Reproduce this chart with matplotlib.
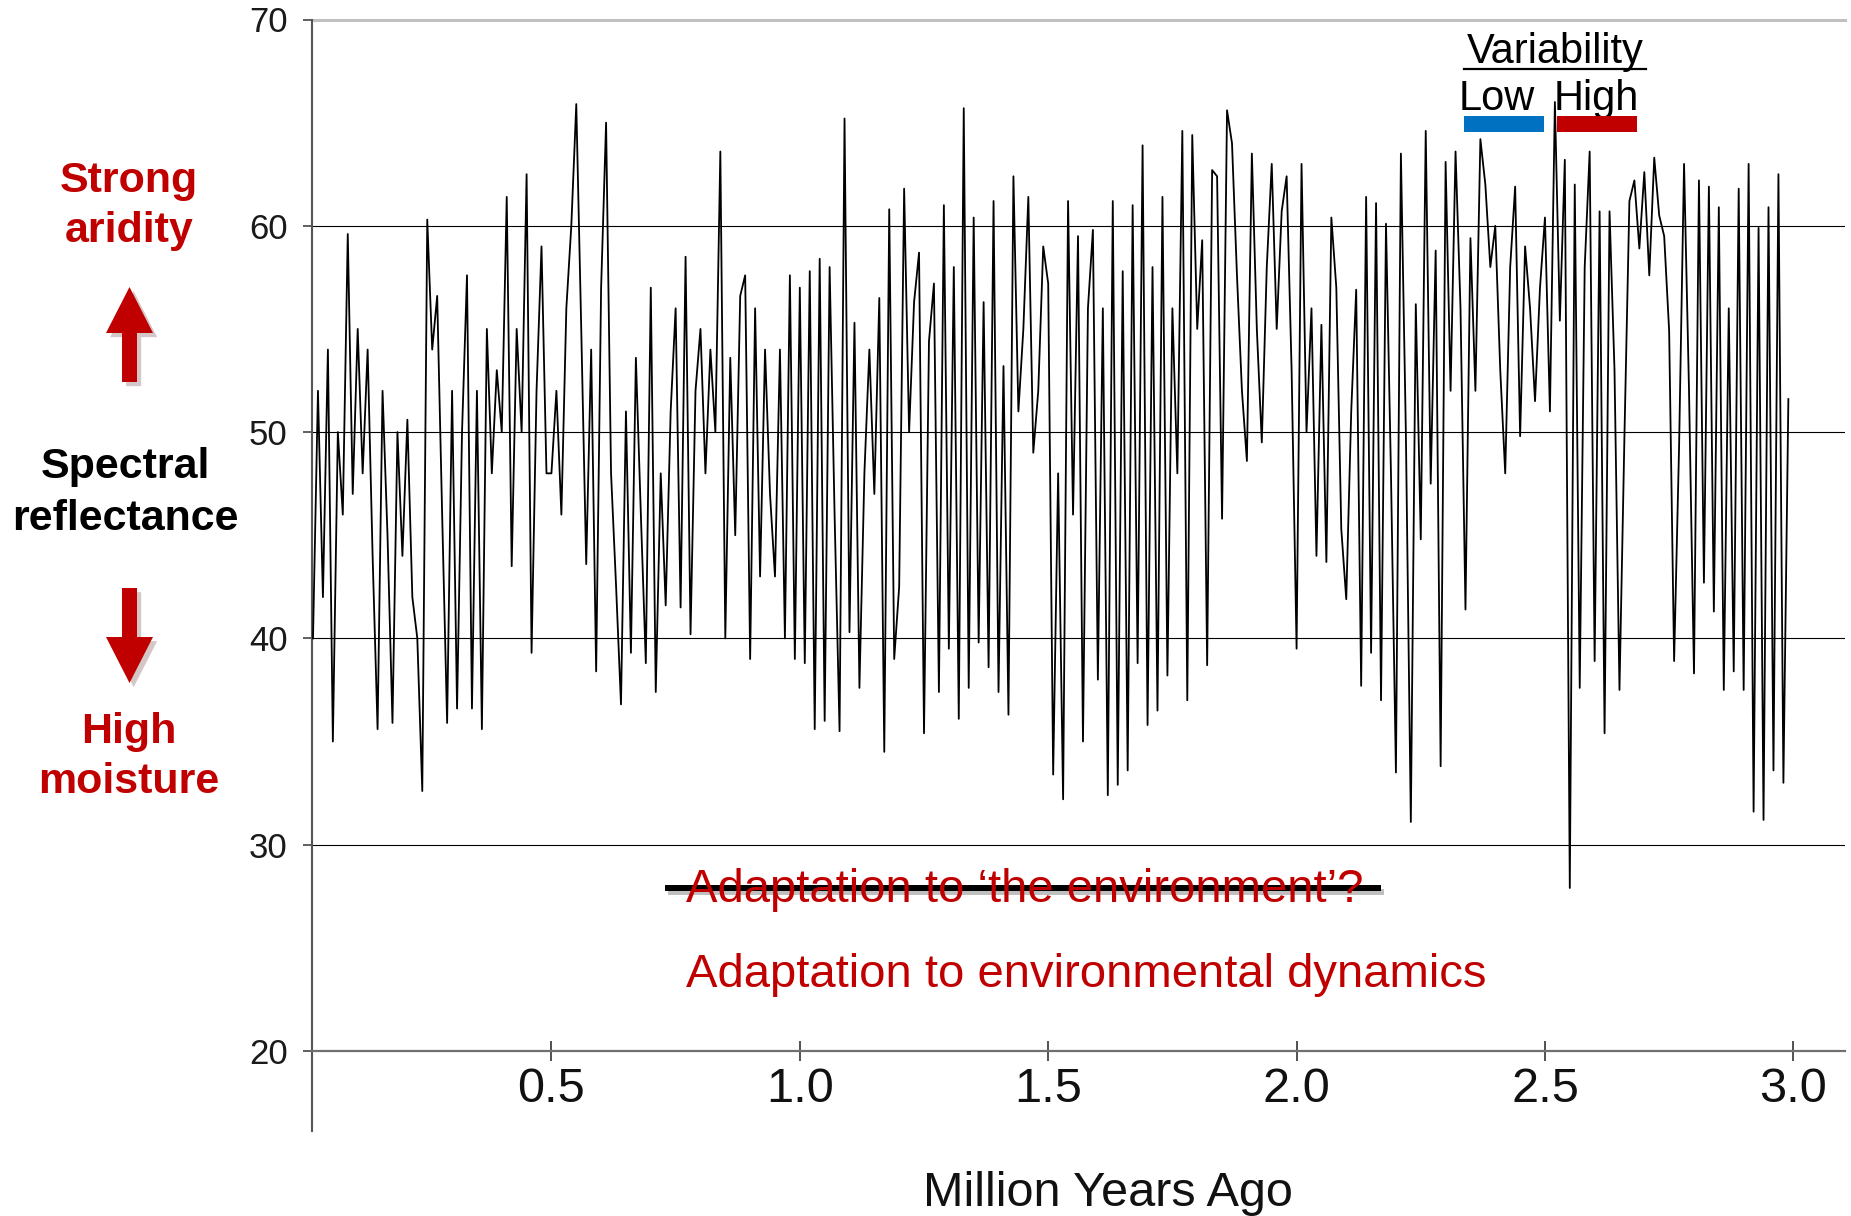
"""
Spectral reflectance record over the last 3 Myr, with variability annotations.
Saves out.png (1851 x 1216).
"""

import numpy as np
import matplotlib
matplotlib.use("Agg")
import matplotlib.pyplot as plt
import matplotlib.patheffects as pe
from matplotlib.patches import Polygon, Rectangle
from matplotlib.lines import Line2D
from matplotlib.transforms import IdentityTransform

W, H, DPI = 1851, 1216, 100

plt.rcParams.update({
    "font.family": ["Liberation Sans", "DejaVu Sans"],
})

RED = "#C00000"
BLUE = "#0070C0"

# ── Data: reflectance, one value every 10 kyr ──────────────────────────────
AGE_START = 0.02   # Myr
AGE_STEP = 0.01

REFL_00 = [40, 52, 42, 54, 35, 50, 46, 59.6]                           # 0.02-0.09
REFL_01 = [47, 55, 48, 54, 44, 35.6, 52, 45, 35.9, 50]
REFL_02 = [44, 50.6, 42, 40, 32.6, 60.3, 54, 56.6, 46, 35.9]
REFL_03 = [52, 36.6, 50, 57.6, 36.6, 52, 35.6, 55, 48, 53]
REFL_04 = [50, 61.4, 43.5, 55, 50, 62.5, 39.3, 52, 59, 48]
REFL_05 = [48, 52, 46, 56, 60, 65.9, 55, 43.6, 54, 38.4]
REFL_06 = [57, 65.0, 48, 42.6, 36.8, 51, 39.3, 53.6, 46, 38.8]
REFL_07 = [57, 37.4, 48, 41.6, 51, 56, 41.5, 58.5, 40.2, 52]
REFL_08 = [55, 48, 54, 50, 63.6, 40, 53.6, 45, 56.6, 57.6]
REFL_09 = [39, 56, 43, 54, 47, 43, 54, 40, 57.6, 39]
REFL_10 = [57, 38.8, 57.8, 35.6, 58.4, 36, 58, 46, 35.5, 65.2]
REFL_11 = [40.3, 55.3, 37.6, 48, 54, 47, 56.5, 34.5, 60.8, 39]
REFL_12 = [42.5, 61.8, 50, 56.3, 58.7, 35.4, 54.4, 57.2, 37.4, 61]
REFL_13 = [39.5, 58, 36.1, 65.7, 37.6, 60.4, 39.8, 56.3, 38.6, 61.2]
REFL_14 = [37.4, 53.2, 36.3, 62.4, 51, 55, 61.4, 49, 52, 59]
REFL_15 = [57.2, 33.4, 48, 32.2, 61.2, 46, 59.5, 35, 56, 59.8]
REFL_16 = [38, 56, 32.4, 61.2, 32.9, 57.8, 33.6, 61, 38.8, 63.9]
REFL_17 = [35.8, 58, 36.5, 61.4, 38.2, 56, 48, 64.6, 37, 64.4]
REFL_18 = [55, 59.3, 38.7, 62.7, 62.4, 45.8, 65.6, 64, 57.6, 52]
REFL_19 = [48.6, 63.5, 55, 49.5, 58, 63, 55, 60.7, 62.4, 53]
REFL_20 = [39.5, 63, 50, 56, 44, 55.2, 43.7, 60.4, 57, 45.3]
REFL_21 = [41.9, 51, 56.9, 37.7, 61.4, 39.3, 61.1, 37, 60.1, 48]
REFL_22 = [33.5, 63.5, 50, 31.1, 56.2, 44.8, 64.6, 47.5, 58.8, 33.8]
REFL_23 = [63.1, 52, 63.6, 56, 41.4, 59.4, 52, 64.2, 62, 58]
REFL_24 = [60, 53, 48, 58, 61.9, 49.8, 59, 56, 51.5, 57]
REFL_25 = [60.4, 51, 66, 55.4, 63.2, 27.9, 62, 37.6, 58, 63.6]
REFL_26 = [38.9, 60.7, 35.4, 60.7, 53, 37.5, 49.8, 61.2, 62.2, 58.9]
REFL_27 = [62.6, 57.6, 63.3, 60.5, 59.5, 54.9, 38.9, 49.3, 63, 52]
REFL_28 = [38.3, 62.2, 42.7, 61.9, 41.3, 60.9, 37.5, 56, 38.4, 61.8]
REFL_29 = [37.5, 63, 31.6, 59.9, 31.2, 60.9, 33.6, 62.5, 33, 51.6]     # 2.90-2.99

Y_TICKS = [20, 30, 40, 50, 60, 70]
X_TICKS = [0.5, 1.0, 1.5, 2.0, 2.5, 3.0]
X_TICK_LABELS = ["0.5", "1.0", "1.5", "2.0", "2.5", "3.0"]

reflectance = np.concatenate([
    REFL_00, REFL_01, REFL_02, REFL_03, REFL_04, REFL_05, REFL_06, REFL_07,
    REFL_08, REFL_09, REFL_10, REFL_11, REFL_12, REFL_13, REFL_14, REFL_15,
    REFL_16, REFL_17, REFL_18, REFL_19, REFL_20, REFL_21, REFL_22, REFL_23,
    REFL_24, REFL_25, REFL_26, REFL_27, REFL_28, REFL_29,
])
age = AGE_START + AGE_STEP * np.arange(len(reflectance))


def px(x, y):
    """Reference pixel (origin top-left) -> display pixel (origin bottom-left)."""
    return x, H - y


def fig_text(x, y, s, **kw):
    fig.text(x / W, 1 - y / H, s, **kw)


# ── Figure / axes ──────────────────────────────────────────────────────────
fig = plt.figure(figsize=(W / DPI, H / DPI), dpi=DPI)
ax = fig.add_axes([312 / W, 1 - 1131 / H, (1845 - 312) / W, (1131 - 19.5) / H])
ax.set_xlim(0.018, 3.104)
ax.set_ylim(16.12, 70)

for y in Y_TICKS[1:-1]:
    ax.axhline(y, color="black", lw=0.8, zorder=1)
ax.axhline(70, color="#c0c0c0", lw=2.2, zorder=1, clip_on=False)

ax.plot(age, reflectance, color="black", lw=1.3, zorder=3)

ax.spines["top"].set_visible(False)
ax.spines["right"].set_visible(False)
ax.spines["left"].set_color("#555555")
ax.spines["left"].set_linewidth(1.5)
ax.spines["bottom"].set_position(("data", 20))
ax.spines["bottom"].set_color("#707070")
ax.spines["bottom"].set_linewidth(1.6)

ax.set_yticks(Y_TICKS)
ax.tick_params(axis="y", direction="out", length=6.5, width=1.2, color="#444444",
               labelsize=25, pad=11, labelcolor="#1a1a1a")
ax.set_xticks(X_TICKS, X_TICK_LABELS)
ax.tick_params(axis="x", direction="inout", length=15, width=1.2, color="#333333",
               labelsize=35, pad=4, labelcolor="#111111")

# ── Axis captions on the left ──────────────────────────────────────────────
bold = dict(fontsize=31, fontweight="bold", ha="center", va="baseline")
fig_text(129, 192, "Strong", color=RED, **bold)
fig_text(129, 242, "aridity", color=RED, **bold)
fig_text(125, 478, "Spectral", color="black", **bold)
fig_text(125, 530, "reflectance", color="black", **bold)
fig_text(129, 743, "High", color=RED, **bold)
fig_text(129, 793, "moisture", color=RED, **bold)

shadow = [pe.SimplePatchShadow(offset=(3, -3), alpha=0.22), pe.Normal()]
up = [(129.5, 287), (153, 333), (137, 333), (137, 382), (122, 382), (122, 333), (106, 333)]
down = [(129.5, 683), (153, 637), (137, 637), (137, 588), (122, 588), (122, 637), (106, 637)]
for verts in (up, down):
    poly = Polygon([px(x, y) for x, y in verts], closed=True, transform=IdentityTransform(),
                   facecolor=RED, edgecolor="none", path_effects=shadow)
    fig.add_artist(poly)

fig_text(1108, 1206, "Million Years Ago", fontsize=35, ha="center", va="baseline",
         color="#111111")

# ── Variability key ────────────────────────────────────────────────────────
fig_text(1555, 63, "Variability", fontsize=30, ha="center", va="baseline")
fig.add_artist(Line2D([1464, 1646], [H - 69, H - 69], transform=IdentityTransform(),
                      color="black", lw=1.6))
fig_text(1497, 110, "Low", fontsize=30, ha="center", va="baseline")
fig_text(1596, 110, "High", fontsize=30, ha="center", va="baseline")
fig.add_artist(Rectangle(px(1464, 132), 80, 16, transform=IdentityTransform(),
                         facecolor=BLUE, edgecolor="none", zorder=5))
fig.add_artist(Rectangle(px(1557, 132), 80, 16, transform=IdentityTransform(),
                         facecolor=RED, edgecolor="none", zorder=5))

# ── Message text ───────────────────────────────────────────────────────────
fig_text(1025, 902, "Adaptation to \u2018the environment\u2019?", fontsize=34,
         color=RED, ha="center", va="baseline")
fig.add_artist(Line2D([665, 1381], [H - 888, H - 888], transform=IdentityTransform(),
                      color="black", lw=4.3, solid_capstyle="butt",
                      path_effects=[pe.SimpleLineShadow(offset=(2, -3), alpha=0.25), pe.Normal()]))
fig_text(1086, 987, "Adaptation to environmental dynamics", fontsize=34,
         color=RED, ha="center", va="baseline")

fig.savefig("out.png", dpi=DPI)
